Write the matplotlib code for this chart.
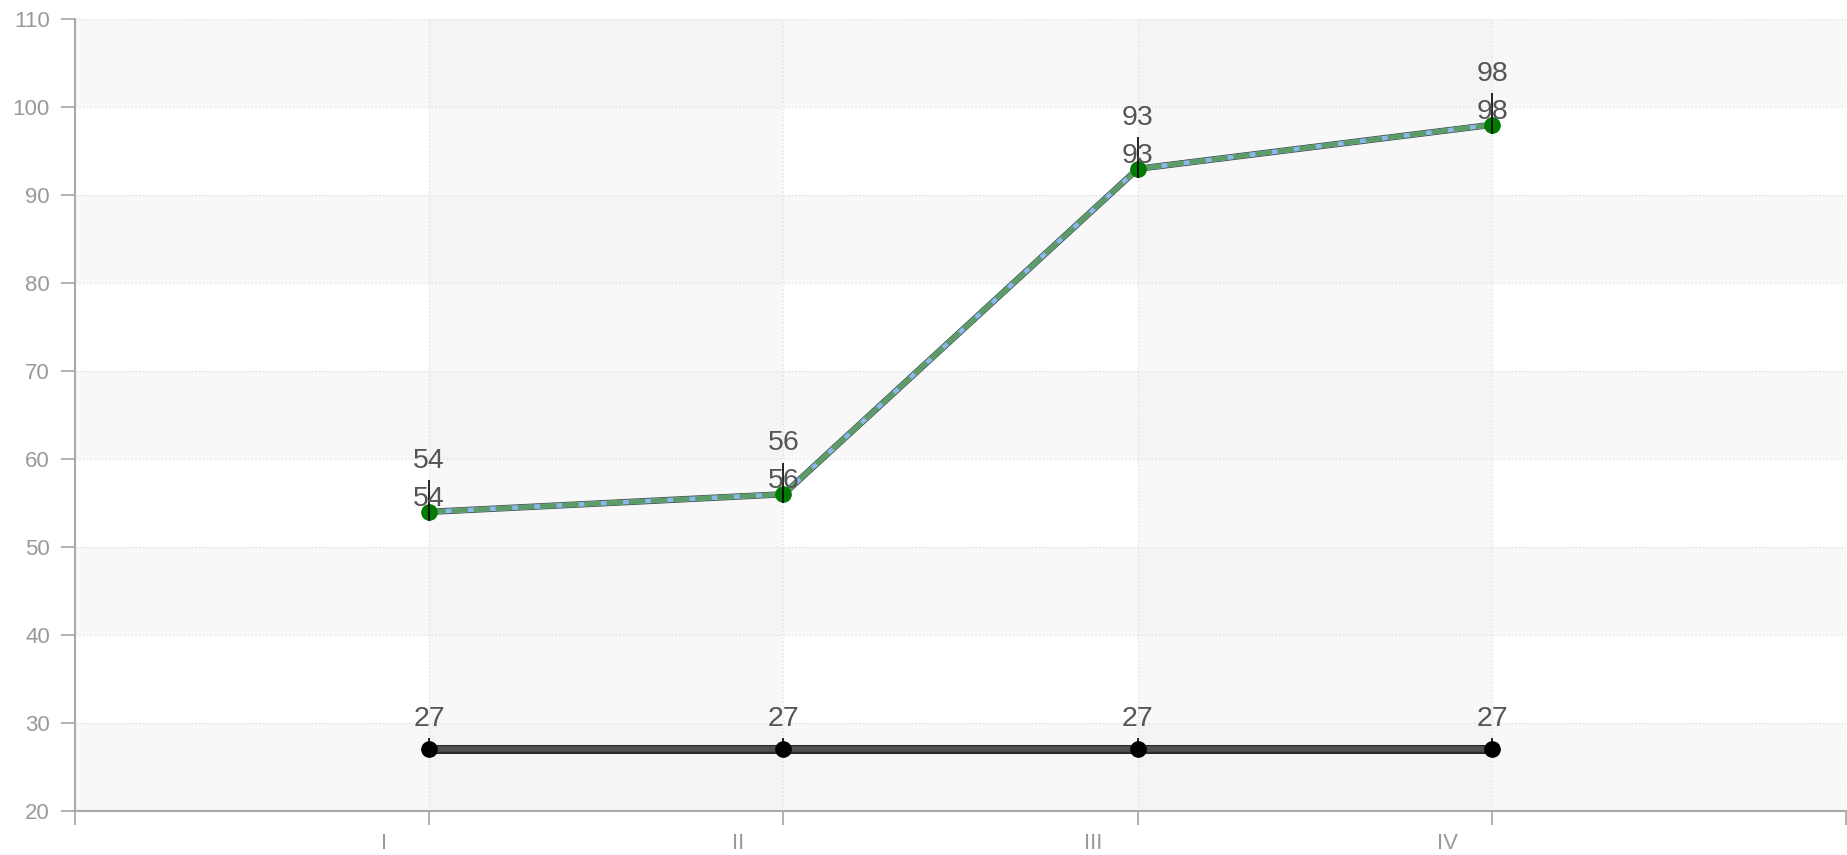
import matplotlib.pyplot as plt
from matplotlib.transforms import offset_copy

plt.rcParams["font.family"] = ["Liberation Sans", "DejaVu Sans"]

categories = ["I", "II", "III", "IV"]
line1 = [54, 56, 93, 98]
line2 = [27, 27, 27, 27]
y_ticks = [20, 30, 40, 50, 60, 70, 80, 90, 100, 110]

x = [1, 2, 3, 4]

fig = plt.figure(figsize=(18.47, 8.55), dpi=100)
ax = fig.add_axes([0.0406, 0.0515, 0.959, 0.926])
ax.set_xlim(0, 5)
ax.set_ylim(20, 110)

# alternating bands
for i, y0 in enumerate(range(20, 110, 10)):
    if i % 2 == 0:
        ax.axhspan(y0, y0 + 10, color="#f3f3f3", alpha=0.5, lw=0, zorder=0)
for x0 in [1, 3]:
    ax.axvspan(x0, x0 + 1, color="#eeeeee", alpha=0.4, lw=0, zorder=0)

ax.grid(True, color="#dddddd", linestyle=(0, (1, 2)), linewidth=0.9, zorder=1)
ax.set_axisbelow(True)

# line 1: light blue base with green dashes
ax.plot(x, line1, color="#3d4f45", lw=4.6, zorder=3)
ax.plot(x, line1, color="#8db8ec", lw=3.4, zorder=4)
ax.plot(x, line1, color="#5c9c66", lw=3.4, zorder=5, dashes=(3.5, 1.2))
ax.plot(x, line1, "o", color="#007a00", ms=11, zorder=6)

# line 2
ax.plot(x, line2, color="#2a2a2a", lw=6.5, zorder=3)
ax.plot(x, line2, color="#505050", lw=4, zorder=4)
ax.plot(x, line2, "o", color="black", ms=11, zorder=6)

# label stems
for xi, v in zip(x, line1):
    ax.vlines(xi, v - 1.0, v + 3.6, color="black", lw=1.2, zorder=7)
for xi, v in zip(x, line2):
    ax.vlines(xi, v, v + 1.3, color="black", lw=1.2, zorder=7)

# value labels
for xi, v in zip(x, line1):
    ax.text(xi, v + 5.8, str(v), ha="center", va="center", fontsize=20.5, color="#555555", zorder=8)
    ax.text(xi, v + 1.5, str(v), ha="center", va="center", fontsize=20.5, color="#555555", zorder=8)
for xi, v in zip(x, line2):
    ax.text(xi, v + 3.5, str(v), ha="center", va="center", fontsize=20.5, color="#555555", zorder=8)

ax.set_xticks([0, 1, 2, 3, 4, 5])
ax.set_xticklabels([])
ax.set_yticks(y_ticks)
ax.set_yticklabels([str(t) for t in y_ticks])

# category labels sit left of their ticks, below the axis
label_tr = offset_copy(ax.transData, fig=fig, x=-45, y=-22, units="dots")
for xi, c in zip(x, categories):
    ax.text(xi, 20, c, transform=label_tr, ha="center", va="top", fontsize=16,
            color="#999999", clip_on=False)

for s in ["top", "right"]:
    ax.spines[s].set_visible(False)
for s in ["left", "bottom"]:
    ax.spines[s].set_color("#aaaaaa")
    ax.spines[s].set_linewidth(1.5)
ax.tick_params(axis="both", colors="#aaaaaa", length=10, width=1.3, labelsize=16,
               labelcolor="#999999")
ax.tick_params(axis="y", pad=8)

fig.savefig("out.png", dpi=100)
plt.close(fig)
